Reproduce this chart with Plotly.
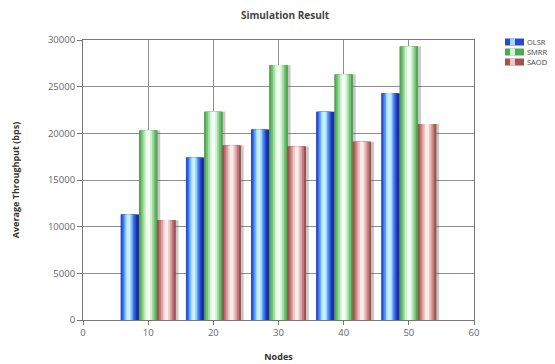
import plotly.graph_objects as go

nodes = [10, 20, 30, 40, 50]
olsr = [11300, 17400, 20400, 22300, 24300]
smrr = [20300, 22300, 27300, 26300, 29300]
saodv = [10700, 18700, 18600, 19100, 21000]
series_names = ["OLSR", "SMRR", "SAODV"]
x_ticks = [0, 10, 20, 30, 40, 50, 60]
y_ticks = [0, 5000, 10000, 15000, 20000, 25000, 30000]

# page places the figure at (8, 8); size the figure to fill the rest of the window
OFF = 8
W, H = 555 - OFF, 364 - OFF
ML, MR, MT, MB = 83 - OFF, 555 - 474, 40 - OFF, 364 - 320
PW, PH = W - ML - MR, H - MT - MB

BW = 2.8
series = [
    ("OLSR", olsr, -1.5 * BW, 0.42,
     ["#1c2aa8", "#2a48d2", "#3b72ea", "#64a4f6", "#a2daff", "#c8f0ff"]),
    ("SMRR", smrr, -0.5 * BW, 0.5,
     ["#3a8a3a", "#52a852", "#74c274", "#a4dba4", "#d4f2d4", "#f4fff4"]),
    ("SAODV", saodv, 0.5 * BW, 0.5,
     ["#873838", "#a25252", "#be7676", "#d8a0a0", "#ecc8c8", "#fbecec"]),
]

fig = go.Figure()

# shadows
for name, vals, off, h, cols in series:
    fig.add_trace(go.Bar(
        x=nodes, y=vals, offset=off + 0.45, width=BW,
        marker=dict(color="rgba(90,90,90,0.34)", line=dict(width=0)),
        showlegend=False, hoverinfo="skip"))

for name, vals, off, h, cols in series:
    n = len(cols)
    fmax = 2 * min(h, 1 - h)
    for k, c in enumerate(cols):
        if k == 0:
            f, center = 1.0, 0.5
        else:
            f = fmax * (1 - (k - 1) / (n - 1))
            center = h
        w = BW * f
        o = off + BW * center - w / 2
        fig.add_trace(go.Bar(
            x=nodes, y=vals, offset=o, width=w,
            marker=dict(color=c, line=dict(width=0)),
            name=name, showlegend=False, hoverinfo="skip"))


def px2x(px):
    return (px - OFF - ML) / PW


def px2y(py):
    return (H - MB - (py - OFF)) / PH


# manual legend (swatches + labels), positions in window pixels
shapes = []
annotations = []
leg_rows_px = [42, 52, 62]
for (name, vals, off, h, cols), ypx in zip(series, leg_rows_px):
    shapes.append(dict(type="rect", xref="paper", yref="paper",
                       x0=px2x(505), x1=px2x(524), y0=px2y(ypx + 3.5), y1=px2y(ypx - 3.5),
                       fillcolor=cols[1], line=dict(width=0)))
    shapes.append(dict(type="rect", xref="paper", yref="paper",
                       x0=px2x(510), x1=px2x(515), y0=px2y(ypx + 3.5), y1=px2y(ypx - 3.5),
                       fillcolor=cols[4], line=dict(width=0)))
    annotations.append(dict(text=name, xref="paper", yref="paper",
                            x=px2x(525), y=px2y(ypx), xanchor="left", yanchor="middle",
                            showarrow=False, font=dict(size=7.5, color="#444444")))

fig.update_layout(
    barmode="overlay",
    width=W, height=H,
    margin=dict(l=ML, r=MR, t=MT, b=MB, autoexpand=False),
    paper_bgcolor="white", plot_bgcolor="white",
    font=dict(family="Open Sans", size=9, color="#555555"),
    title=dict(text="<b>Simulation Result</b>",
               x=(285 - OFF) / W, xanchor="center",
               xref="container", yref="container",
               y=1 - (15 - OFF) / H, yanchor="middle",
               font=dict(size=10, color="#444444")),
    showlegend=False,
    shapes=shapes,
    annotations=annotations,
)
fig.update_xaxes(
    range=[0, 60], tickvals=x_ticks, ticks="outside", ticklen=4,
    tickcolor="#777777", showline=True, linecolor="#777777", mirror=True,
    showgrid=True, gridcolor="#8f8f8f", gridwidth=1, zeroline=False,
    tickfont=dict(size=9.5, color="#666666"),
    title=dict(text="<b>Nodes</b>", font=dict(size=9, color="#333333"),
               standoff=15),
)
fig.update_yaxes(
    range=[0, 30000], tickvals=y_ticks, tickformat="d", ticks="outside", ticklen=5,
    tickcolor="#777777", showline=True, linecolor="#777777", mirror=True,
    showgrid=True, gridcolor="#8f8f8f", gridwidth=1, zeroline=False,
    tickfont=dict(size=9.5, color="#666666"),
    title=dict(text="<b>Average Throughput (bps)</b>",
               font=dict(size=9, color="#333333"), standoff=26),
)

fig.write_html("out.html")
